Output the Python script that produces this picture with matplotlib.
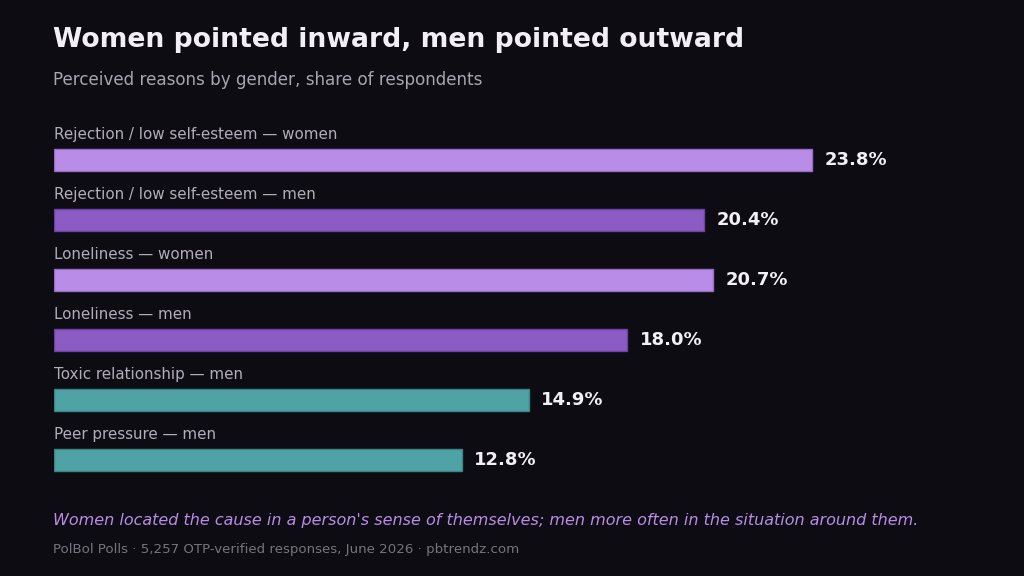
import matplotlib.pyplot as plt

# chart data
labels = ["Rejection / low self-esteem \u2014 women",
          "Rejection / low self-esteem \u2014 men",
          "Loneliness \u2014 women",
          "Loneliness \u2014 men",
          "Toxic relationship \u2014 men",
          "Peer pressure \u2014 men"]
values = [23.8, 20.4, 20.7, 18.0, 14.9, 12.8]
groups = ["women", "men", "women", "men", "other", "other"]

BG = "#0d0c12"
colors = {"women": "#b98ce8", "men": "#8b5cc4", "other": "#4fa3a5"}
edges = {"women": "#9a6cc8", "men": "#6e42a4", "other": "#3c8486"}

W, H = 1024, 576
fig = plt.figure(figsize=(W / 100, H / 100), dpi=100, facecolor=BG)

# axes placed in pixel terms: bars start at x=54, 6 rows of 60px from y=130
ax = fig.add_axes([54 / W, 1 - 490 / H, (963.6 - 54) / W, 360 / H])
ax.set_facecolor(BG)
ax.set_xlim(0, max(values) * 1.2)
ax.set_ylim(len(values) - 0.5, -0.5)
ax.axis("off")

for i, (lab, v, g) in enumerate(zip(labels, values, groups)):
    ax.barh(i, v, height=0.367, color=colors[g], edgecolor=edges[g], linewidth=1.0)
    ax.text(0, i - 0.433, lab, color="#b3adbb", fontsize=10.9, va="center", ha="left")
    ax.text(v + 0.4, i, f"{v:.1f}%", color="#f2f0f5", fontsize=13, fontweight="bold",
            va="center", ha="left")

fig.text(53 / W, 1 - 40 / H, "Women pointed inward, men pointed outward",
         color="#f2f0f5", fontsize=19.2, fontweight="bold", va="center", ha="left")
fig.text(53 / W, 1 - 80 / H, "Perceived reasons by gender, share of respondents",
         color="#a9a4b0", fontsize=12.05, va="center", ha="left")
fig.text(53 / W, 1 - 520 / H,
         "Women located the cause in a person's sense of themselves; men more often in the situation around them.",
         color="#b98ce8", fontsize=11.5, fontstyle="italic", va="center", ha="left")
fig.text(53 / W, 1 - 550 / H,
         "PolBol Polls \u00b7 5,257 OTP-verified responses, June 2026 \u00b7 pbtrendz.com",
         color="#77737f", fontsize=9.65, va="center", ha="left")

fig.savefig("out.png", dpi=100, facecolor=BG)
